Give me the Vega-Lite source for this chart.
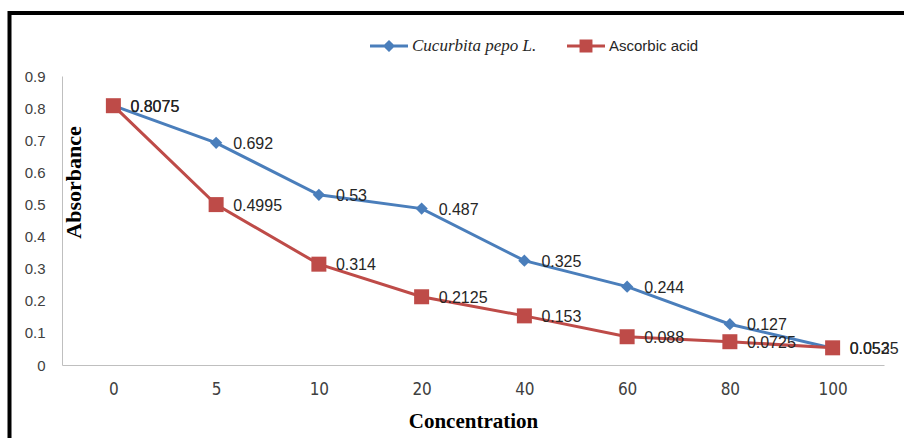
{
  "$schema": "https://vega.github.io/schema/vega-lite/v6.json",
  "width": 822,
  "height": 289,
  "autosize": {"type": "none"},
  "padding": {"left": 62, "top": 76, "right": 20, "bottom": 73},
  "background": "white",
  "config": {"view": {"stroke": null}, "font": "Liberation Sans"},
  "data": {
    "values": [
      {"conc": 0, "series": "Cucurbita pepo L.", "absorbance": 0.8075},
      {"conc": 5, "series": "Cucurbita pepo L.", "absorbance": 0.692},
      {"conc": 10, "series": "Cucurbita pepo L.", "absorbance": 0.53},
      {"conc": 20, "series": "Cucurbita pepo L.", "absorbance": 0.487},
      {"conc": 40, "series": "Cucurbita pepo L.", "absorbance": 0.325},
      {"conc": 60, "series": "Cucurbita pepo L.", "absorbance": 0.244},
      {"conc": 80, "series": "Cucurbita pepo L.", "absorbance": 0.127},
      {"conc": 100, "series": "Cucurbita pepo L.", "absorbance": 0.052},
      {"conc": 0, "series": "Ascorbic acid", "absorbance": 0.8075},
      {"conc": 5, "series": "Ascorbic acid", "absorbance": 0.4995},
      {"conc": 10, "series": "Ascorbic acid", "absorbance": 0.314},
      {"conc": 20, "series": "Ascorbic acid", "absorbance": 0.2125},
      {"conc": 40, "series": "Ascorbic acid", "absorbance": 0.153},
      {"conc": 60, "series": "Ascorbic acid", "absorbance": 0.088},
      {"conc": 80, "series": "Ascorbic acid", "absorbance": 0.0725},
      {"conc": 100, "series": "Ascorbic acid", "absorbance": 0.0535}
    ]
  },
  "encoding": {
    "x": {
      "field": "conc",
      "type": "ordinal",
      "title": "Concentration",
      "scale": {"type": "point", "padding": 0.5},
      "axis": {
        "labelAngle": 0,
        "ticks": false,
        "domainColor": "#bfbfbf",
        "domainWidth": 1,
        "labelFont": "'Liberation Sans Narrow', 'DejaVu Sans Condensed', 'Roboto Condensed', sans-serif",
        "labelFontSize": 17,
        "labelColor": "#404040",
        "labelPadding": 16,
        "titleFont": "Liberation Serif",
        "titleFontSize": 21,
        "titleFontWeight": "bold",
        "titleColor": "#000000",
        "titlePadding": 13
      }
    },
    "y": {
      "field": "absorbance",
      "type": "quantitative",
      "title": "Absorbance",
      "scale": {"domain": [0, 0.9], "nice": false},
      "axis": {
        "values": [0, 0.1, 0.2, 0.3, 0.4, 0.5, 0.6, 0.7, 0.8, 0.9],
        "format": "~g",
        "grid": false,
        "ticks": false,
        "domainColor": "#bfbfbf",
        "domainWidth": 1,
        "labelFont": "Liberation Sans",
        "labelFontSize": 15,
        "labelColor": "#404040",
        "labelPadding": 17,
        "titleFont": "Liberation Serif",
        "titleFontSize": 22,
        "titleFontWeight": "bold",
        "titleColor": "#000000",
        "titleAngle": -90,
        "titleX": 11,
        "titleY": 106,
        "titleAlign": "center",
        "titleBaseline": "middle"
      }
    },
    "color": {
      "field": "series",
      "type": "nominal",
      "scale": {"domain": ["Cucurbita pepo L.", "Ascorbic acid"], "range": ["#4A7EBB", "#BE4B48"]},
      "legend": {
        "orient": "none",
        "legendX": 308,
        "legendY": -49,
        "direction": "horizontal",
        "title": null,
        "padding": 0,
        "symbolSize": 1444,
        "symbolStrokeWidth": 0,
        "symbolOpacity": 1,
        "labelFont": "Liberation Sans",
        "labelFontSize": 15,
        "labelColor": "#262626",
        "labelOffset": 4,
        "columnPadding": 30,
        "encode": {
          "symbols": {
            "update": {
              "shape": {"signal": "datum.value === 'Cucurbita pepo L.' ? 'M-1,-0.08H1V0.08H-1Z M0,-0.32L0.32,0L0,0.32L-0.32,0Z' : 'M-1,-0.08H1V0.08H-1Z M-0.34,-0.34H0.34V0.34H-0.34Z'"},
              "size": {"value": 1444},
              "fill": {"scale": "color", "field": "value"},
              "strokeWidth": {"value": 0}
            }
          },
          "labels": {
            "update": {
              "font": {"signal": "datum.value === 'Cucurbita pepo L.' ? 'Liberation Serif' : 'Liberation Sans'"},
              "fontStyle": {"signal": "datum.value === 'Cucurbita pepo L.' ? 'italic' : 'normal'"},
              "fontSize": {"signal": "datum.value === 'Cucurbita pepo L.' ? 17 : 15"}
            }
          }
        }
      }
    }
  },
  "layer": [
    {
      "mark": {"type": "line", "strokeWidth": 3}
    },
    {
      "transform": [{"filter": "datum.series === 'Cucurbita pepo L.'"}],
      "mark": {"type": "point", "filled": true, "opacity": 1, "shape": "diamond", "size": 150}
    },
    {
      "transform": [{"filter": "datum.series === 'Ascorbic acid'"}],
      "mark": {"type": "point", "filled": true, "opacity": 1, "shape": "square", "size": 225}
    },
    {
      "mark": {"type": "text", "align": "left", "baseline": "middle", "dx": 17, "dy": 1, "font": "Liberation Sans", "fontSize": 16},
      "encoding": {
        "text": {"field": "absorbance", "type": "nominal"},
        "color": {"value": "#262626"}
      }
    },
    {
      "data": {"values": [{}]},
      "mark": {"type": "rule", "stroke": "#000000", "strokeWidth": 4},
      "encoding": {
        "x": {"value": -54},
        "x2": {"value": 842},
        "y": {"value": -63},
        "color": {"value": "#000000"}
      }
    },
    {
      "data": {"values": [{}]},
      "mark": {"type": "rule", "stroke": "#000000", "strokeWidth": 4},
      "encoding": {
        "x": {"value": -52.5},
        "y": {"value": -65},
        "y2": {"value": 362},
        "color": {"value": "#000000"}
      }
    }
  ]
}
